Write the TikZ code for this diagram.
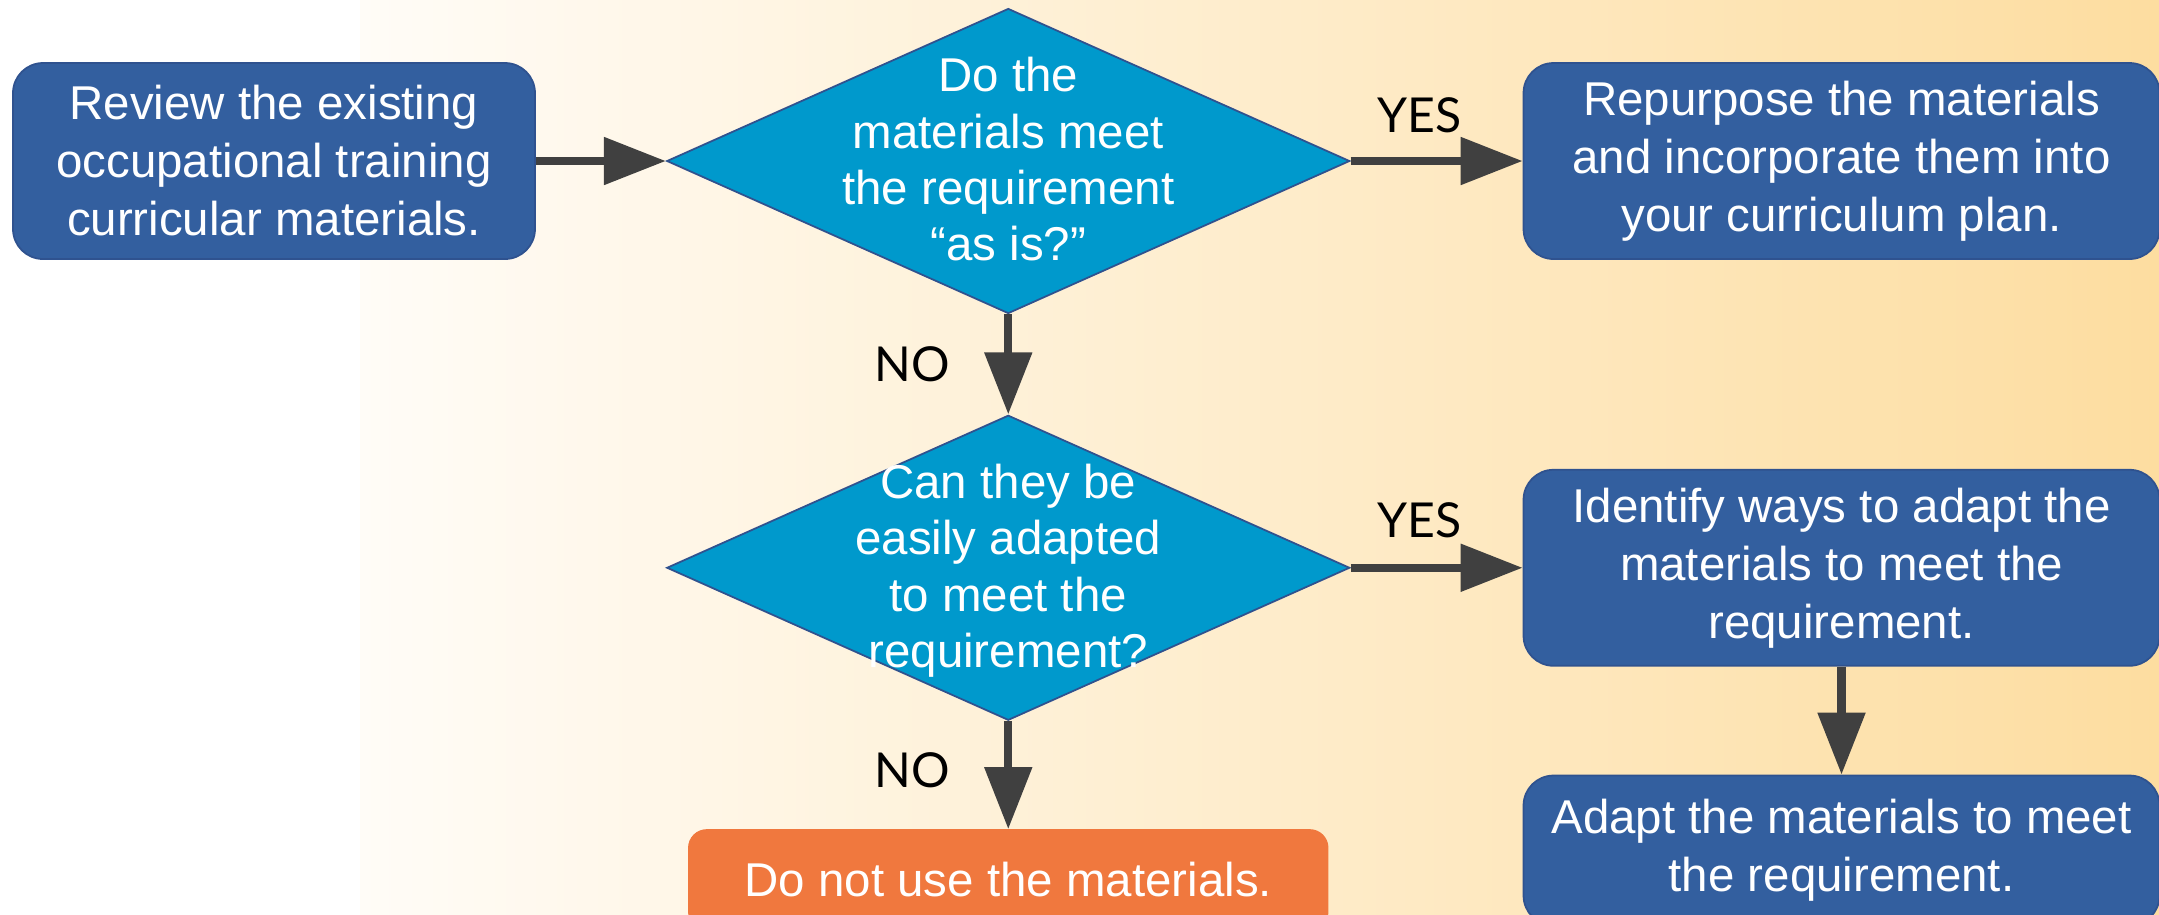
\documentclass[tikz,border=0pt]{standalone}
\usepackage{fontspec}
\setmainfont{Liberation Sans}
\newfontfamily\answerfont{Lato}
\usetikzlibrary{shapes.geometric, arrows.meta, positioning, shapes}
\definecolor{boxblue}{RGB}{51,95,159}
\definecolor{boxedge}{RGB}{47,82,143}
\definecolor{question}{RGB}{0,153,204}
\definecolor{stopfill}{RGB}{240,120,62}
\definecolor{arrowgrey}{RGB}{64,64,64}
\definecolor{paper}{RGB}{253,221,160}
\definecolor{paperlight}{RGB}{255,252,247}
% text that may run over the edge of its diamond
\newcommand{\overtext}[1]{\makebox[0pt]{\raisebox{-0.35em}[0pt][0pt]{\begin{tabular}{@{}c@{}}#1\end{tabular}}}}

\begin{document}
\begin{tikzpicture}[node distance = 1cm]
\tikzstyle{block} = [rectangle, draw=boxedge, fill=boxblue, text=white, line width=0.5pt,
    align=center, rounded corners=0.3cm, minimum width=5.22cm, minimum height=1.96cm,
    font=\fontsize{13.5}{16.5}\selectfont]
\tikzstyle{wide} = [minimum width=6.36cm]
\tikzstyle{decision} = [diamond, draw=boxedge, fill=question, text=white, line width=0.5pt,
    minimum width=6.83cm, minimum height=3.05cm, inner sep=0pt,
    font=\fontsize{13.5}{16}\selectfont]
\tikzstyle{stopbox} = [rectangle, draw=stopfill, fill=stopfill, text=white, align=center,
    rounded corners=0.18cm, minimum width=6.39cm, minimum height=1cm,
    font=\fontsize{13.5}{16.5}\selectfont]
\tikzstyle{line} = [draw, line width=2.4pt, arrowgrey, -{Triangle[length=0.62cm, width=0.46cm]}]
\tikzstyle{answer} = [text=black, inner sep=0pt, font=\answerfont\fontsize{13.7}{16}\selectfont]

    % Background
    \useasboundingbox (0,0) rectangle (21.59,-9.14);
    \clip (0,0) rectangle (21.59,-9.14);
    \fill [white] (0,0) rectangle (3.6,-9.14);
    \shade [left color=paperlight, right color=paper] (3.6,0) rectangle (21.59,-9.14);

    % Place nodes
    \node [block] (review) at (2.74,-1.61) {Review the existing \\ occupational training \\ curricular materials.};
    \node [decision, right=1.3cm of review] (asis) {\overtext{Do the \\ materials meet \\ the requirement \\ “as is?”}};
    \node [block, wide, right=1.72cm of asis] (repurpose) {Repurpose the materials \\ and incorporate them into \\ your curriculum plan.};
    \node [decision, below=1cm of asis] (adapt) {\overtext{Can they be \\ easily adapted \\ to meet the \\ requirement?}};
    \node [block, wide, right=1.72cm of adapt] (identify) {Identify ways to adapt the \\ materials to meet the \\ requirement.};
    \node [block, wide, below=1.08cm of identify, minimum height=1.5cm] (modify) {Adapt the materials to meet \\ the requirement.};
    \node [stopbox, below=1.08cm of adapt] (reject) {Do not use the materials.};

%paths
    \path [line] (review) -- (asis);
    \path [line] (asis) -- node [answer, pos=0.4, above=0.24cm] {YES} (repurpose);
    \path [line] (asis) -- node [answer, left=0.54cm] {NO} (adapt);
    \path [line] (adapt) -- node [answer, pos=0.4, above=0.26cm] {YES} (identify);
    \path [line] (adapt) -- node [answer, pos=0.45, left=0.54cm] {NO} (reject);
    \path [line] (identify) -- (modify);

\end{tikzpicture}
\end{document}
